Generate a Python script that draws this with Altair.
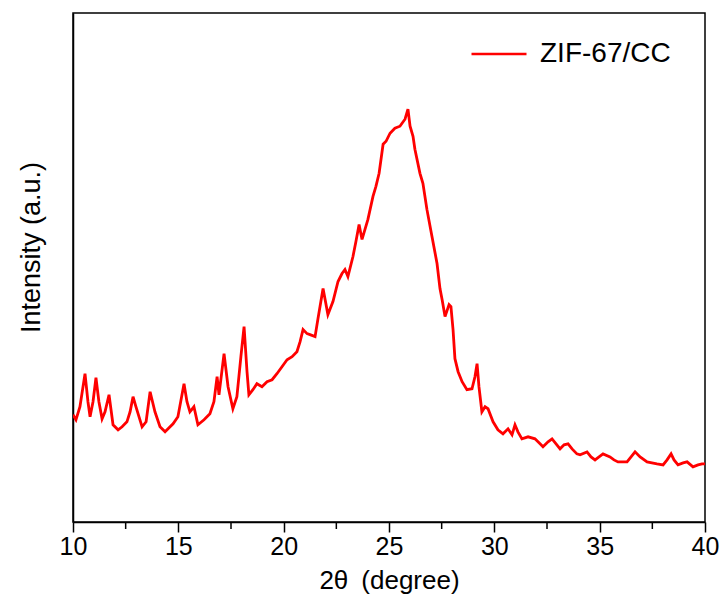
import altair as alt
import pandas as pd

# 2-theta positions (degree)
two_theta = [
    10.00, 10.14, 10.33, 10.57, 10.71, 10.81, 10.95, 11.09, 11.23, 11.38,
    11.52, 11.71, 11.90, 12.14, 12.33, 12.56, 12.71, 12.85, 12.99, 13.28,
    13.47, 13.66, 13.89, 14.13, 14.37, 14.56, 14.75, 14.98, 15.27, 15.41,
    15.55, 15.74, 15.93, 16.22, 16.50, 16.69, 16.84, 16.93, 17.17, 17.36,
    17.59, 17.78, 17.97, 18.12, 18.26, 18.35, 18.54, 18.73, 18.97, 19.21,
    19.45, 19.68, 19.92, 20.16, 20.40, 20.63, 20.78, 20.92, 21.11, 21.25,
    21.49, 21.63, 21.87, 22.10, 22.34, 22.58, 22.77, 22.91, 23.05, 23.29,
    23.43, 23.58, 23.72, 23.86, 24.00, 24.24, 24.38, 24.53, 24.72, 24.86,
    25.05, 25.28, 25.52, 25.62, 25.76, 25.90, 26.00, 26.14, 26.23, 26.47,
    26.61, 26.80, 27.04, 27.28, 27.42, 27.52, 27.66, 27.85, 27.94, 28.04,
    28.13, 28.28, 28.47, 28.70, 28.94, 29.08, 29.18, 29.27, 29.41, 29.56,
    29.70, 29.94, 30.17, 30.41, 30.65, 30.84, 30.98, 31.12, 31.31, 31.60,
    31.93, 32.17, 32.31, 32.55, 32.74, 32.93, 33.12, 33.31, 33.50, 33.69,
    33.92, 34.07, 34.40, 34.59, 34.78, 34.97, 35.16, 35.49, 35.68, 35.87,
    36.11, 36.30, 36.49, 36.68, 36.92, 37.25, 37.48, 37.72, 38.01, 38.20,
    38.39, 38.53, 38.72, 38.96, 39.15, 39.43, 39.67, 39.86, 40.00,
]

# intensity (a.u.)
intensity = [
    107, 102, 115, 148, 120, 105, 120, 144, 120, 103,
    110, 127, 97, 92, 95, 100, 110, 125, 115, 95,
    100, 130, 110, 95, 90, 94, 98, 105, 138, 120,
    110, 115, 97, 102, 108, 120, 145, 127, 168, 135,
    113, 125, 165, 195, 150, 127, 132, 138, 135, 140,
    142, 148, 155, 162, 165, 170, 180, 192, 188, 187,
    185, 203, 233, 207, 220, 240, 248, 252, 245, 265,
    280, 297, 282, 292, 302, 325, 335, 348, 377, 380,
    388, 393, 395, 398, 402, 412, 395, 385, 372, 348,
    338, 312, 285, 258, 233, 222, 205, 217, 215, 192,
    163, 150, 140, 132, 133, 145, 158, 135, 110, 115,
    113, 100, 92, 88, 93, 87, 97, 90, 83, 85,
    83, 78, 75, 80, 83, 78, 73, 77, 78, 73,
    68, 67, 70, 65, 62, 65, 68, 65, 62, 60,
    60, 60, 65, 70, 65, 60, 59, 58, 57, 62,
    68, 62, 57, 59, 60, 55, 57, 58, 58,
]

assert len(two_theta) == len(intensity)

series_name = "ZIF-67/CC"
major_ticks = [10, 15, 20, 25, 30, 35, 40]
minor_ticks = [12.5, 17.5, 22.5, 27.5, 32.5, 37.5]

df = pd.DataFrame({"x": two_theta, "y": intensity, "series": series_name})
minor_df = pd.DataFrame({"x": minor_ticks})

FONT = "Liberation Sans"

xscale = alt.Scale(domain=[10, 40], nice=False, zero=False)
yscale = alt.Scale(domain=[0, 508], nice=False, zero=False)

line = alt.Chart(df).mark_line(strokeWidth=2.8, clip=True).encode(
    x=alt.X(
        "x:Q",
        scale=xscale,
        axis=alt.Axis(
            values=major_ticks,
            title="2θ\u2002(degree)",
            titleFontSize=26,
            titleFontWeight="normal",
            titleFont=FONT,
            titleColor="#000",
            titlePadding=8,
            labelFontSize=25,
            labelFont=FONT,
            labelColor="#000",
            labelPadding=2,
            tickSize=10,
            tickWidth=1.5,
            tickColor="#000",
            domainColor="#000",
            domainWidth=1.5,
            grid=False,
            labelFlush=False,
        ),
    ),
    y=alt.Y(
        "y:Q",
        scale=yscale,
        axis=alt.Axis(
            title="Intensity (a.u.)",
            titleFontSize=27,
            titleFontWeight="normal",
            titleFont=FONT,
            titleColor="#000",
            titlePadding=28,
            titleY=234,
            labels=False,
            ticks=False,
            domainColor="#000",
            domainWidth=1.5,
            grid=False,
        ),
    ),
    color=alt.Color(
        "series:N",
        scale=alt.Scale(domain=[series_name], range=["#ff0000"]),
        legend=alt.Legend(
            title=None,
            orient="none",
            legendX=397,
            legendY=12,
            symbolType="stroke",
            symbolSize=3025,
            symbolStrokeWidth=2.5,
            labelFontSize=28,
            labelFont=FONT,
            labelColor="#000",
            labelOffset=12,
        ),
    ),
)

minor = alt.Chart(minor_df).mark_rule(color="#000", strokeWidth=1.5, clip=False).encode(
    x=alt.X("x:Q", scale=xscale),
    y=alt.datum(0, scale=yscale),
    y2=alt.datum(-7),
)

chart = (
    alt.layer(line, minor)
    .properties(
        width=632,
        height=509,
        padding={"left": 73, "top": 13, "right": 17, "bottom": 90},
        autosize=alt.AutoSizeParams(type="none"),
        background="white",
    )
    .configure_view(stroke="#000", strokeWidth=1.5)
)

chart.save("out.html", embed_options={"renderer": "svg", "actions": False})
